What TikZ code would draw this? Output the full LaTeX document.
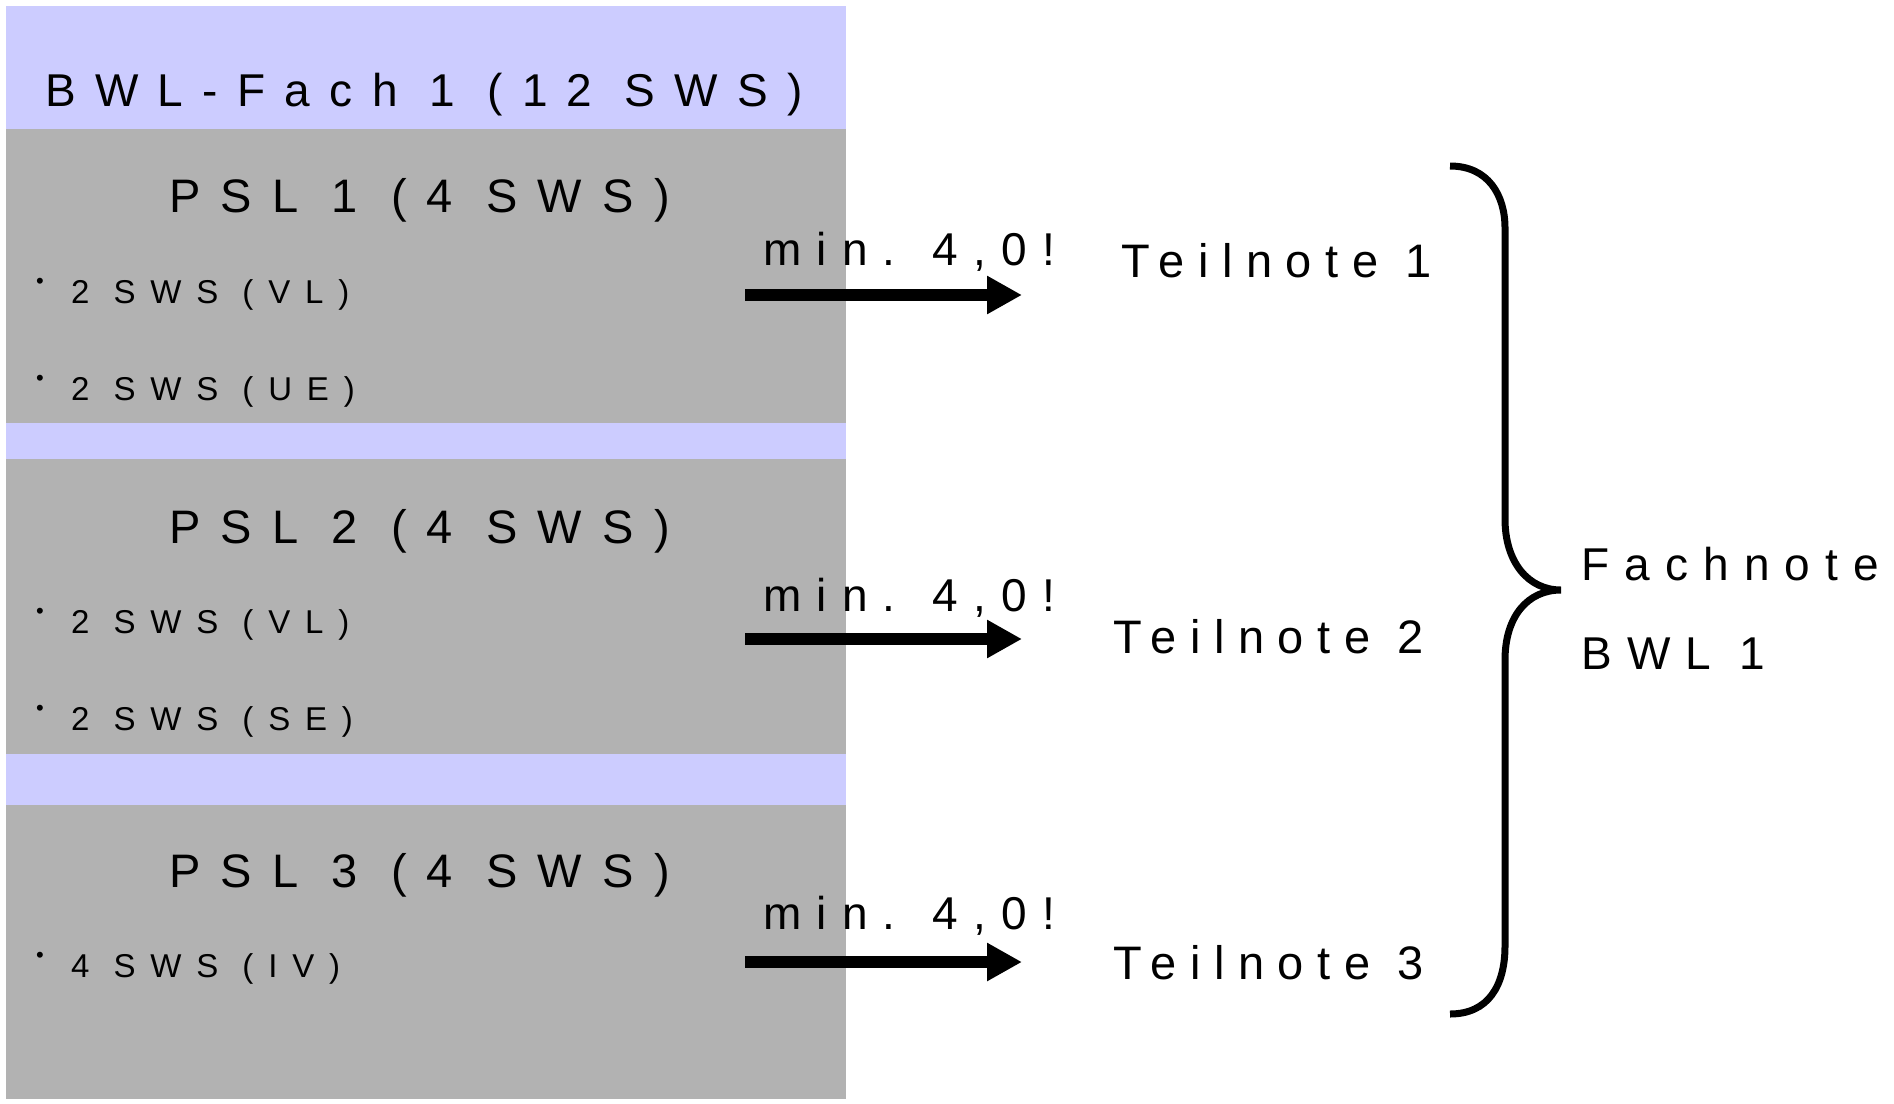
\documentclass[tikz,border=0pt]{standalone}
\usepackage{fontspec}
\setmainfont{Liberation Sans}
\usetikzlibrary{arrows.meta}
\definecolor{lav}{HTML}{CCCCFF}
\definecolor{gry}{HTML}{B2B2B2}
\newcommand\fsz[2]{\fontsize{#1}{#1}\selectfont\addfontfeatures{LetterSpace=#2}}
\newcommand\bul{\makebox[35pt][l]{\raisebox{15pt}{\fontsize{22}{22}\selectfont •}}}
\tikzset{
  txt/.style={anchor=base west, inner sep=0pt, text=black},
  titletxt/.style={txt, font=\fsz{46}{42}},
  psltxt/.style={txt, font=\fsz{47}{43}},
  itemtxt/.style={txt, font=\fsz{33}{45}},
  mintxt/.style={txt, font=\fsz{46}{33}},
  teiltxt/.style={txt, font=\fsz{47}{29}},
  fachtxt/.style={txt, font=\fsz{46}{33}},
  arr/.style={line width=12pt, -{Triangle[length=35pt,width=36pt]}},
  bracepath/.style={line width=7pt},
}
\begin{document}
\begin{tikzpicture}[x=1pt,y=-1pt]
\useasboundingbox (0,0) rectangle (1894,1103);
\fill[white] (0,0) rectangle (1894,1103);
% background boxes
\fill[lav] (6,6) rectangle (846,1099);
\fill[gry] (6,129) rectangle (846,423);
\fill[gry] (6,459) rectangle (846,754);
\fill[gry] (6,805) rectangle (846,1099);
% texts
\node[titletxt] (title) at (45,106) {BWL-Fach 1 (12 SWS)};
\node[psltxt] (p1) at (169,212) {PSL 1 (4 SWS)};
\node[psltxt] (p2) at (169,543) {PSL 2 (4 SWS)};
\node[psltxt] (p3) at (169,887) {PSL 3 (4 SWS)};
\node[itemtxt] (i11) at (36,303) {\bul 2 SWS (VL)};
\node[itemtxt] (i12) at (36,400) {\bul 2 SWS (UE)};
\node[itemtxt] (i21) at (36,633) {\bul 2 SWS (VL)};
\node[itemtxt] (i22) at (36,730) {\bul 2 SWS (SE)};
\node[itemtxt] (i31) at (36,977) {\bul 4 SWS (IV)};
% min labels
\node[mintxt] (m1) at (763,265) {min. 4,0!};
\node[mintxt] (m2) at (763,611) {min. 4,0!};
\node[mintxt] (m3) at (763,929) {min. 4,0!};
% Teilnoten
\node[teiltxt] (t1) at (1121,277) {Teilnote 1};
\node[teiltxt] (t2) at (1113,653) {Teilnote 2};
\node[teiltxt] (t3) at (1113,979) {Teilnote 3};
% Fachnote
\node[fachtxt] (f1) at (1581,580) {Fachnote};
\node[fachtxt] (f2) at (1581,669) {BWL 1};
% arrows
\coordinate (a1s) at (745,295); \coordinate (a1e) at (1022,295);
\coordinate (a2s) at (745,639); \coordinate (a2e) at (1022,639);
\coordinate (a3s) at (745,962); \coordinate (a3e) at (1022,962);
\draw[arr] (a1s) -- (a1e);
\draw[arr] (a2s) -- (a2e);
\draw[arr] (a3s) -- (a3e);
% brace
\coordinate (btop) at (1450,166);
\coordinate (btip) at (1561,590);
\coordinate (bbot) at (1450,1014);
\draw[bracepath] (btop) .. controls (1488,166) and (1505,195) .. (1505,228)
  -- (1505,519) .. controls (1505,562) and (1528,590) .. (btip)
  .. controls (1528,590) and (1505,616) .. (1505,660)
  -- (1505,946) .. controls (1505,986) and (1488,1014) .. (bbot);
\end{tikzpicture}
\end{document}
